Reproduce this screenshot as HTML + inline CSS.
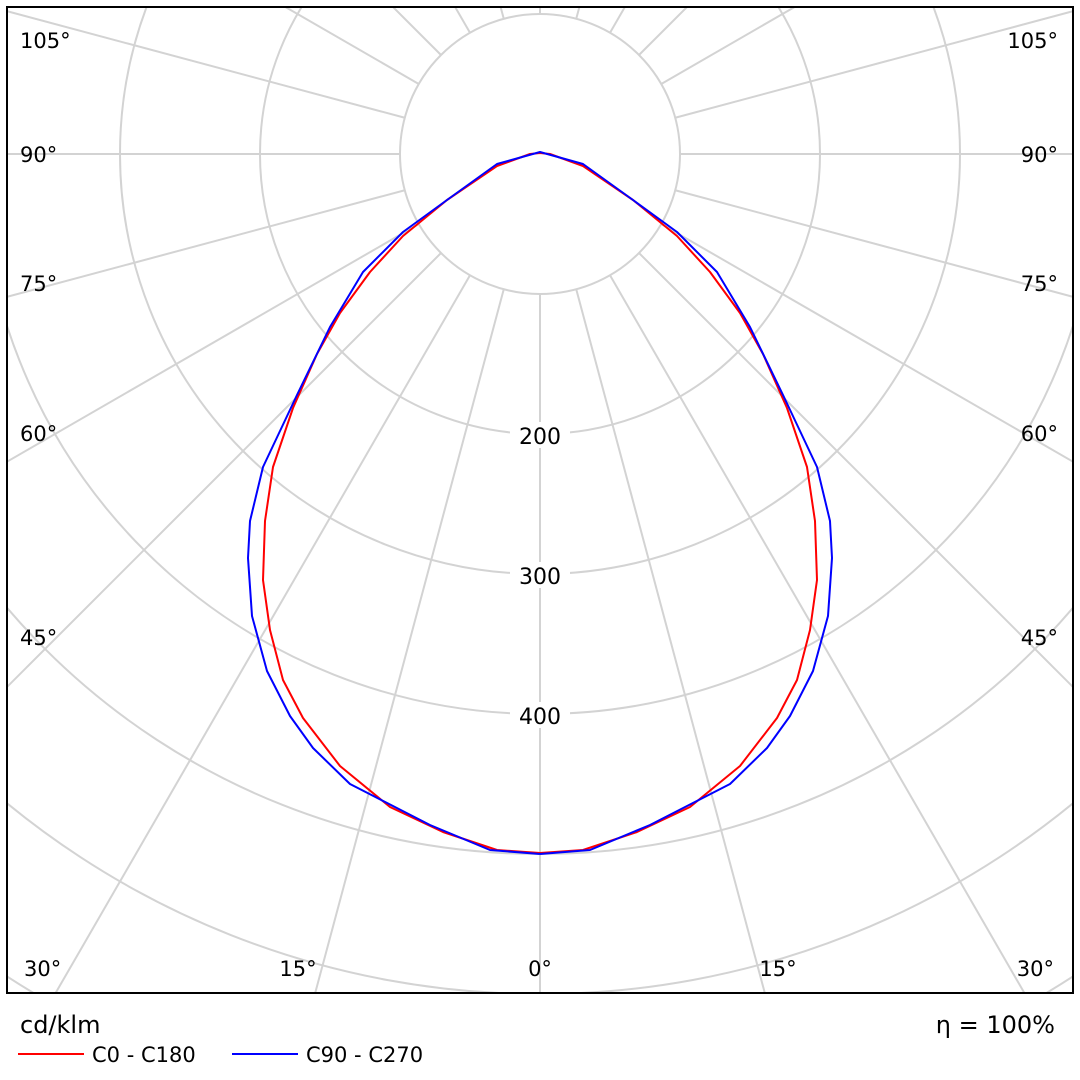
<!DOCTYPE html>
<html><head><meta charset="utf-8"><style>
html,body{margin:0;padding:0;background:#fff;width:1080px;height:1080px;overflow:hidden;}
svg{display:block;font-family:"DejaVu Sans","Liberation Sans",sans-serif;}
</style></head><body>
<svg width="1080" height="1080" viewBox="0 0 1080 1080" xmlns="http://www.w3.org/2000/svg">
<defs><clipPath id="c"><rect x="8" y="8" width="1064" height="984"/></clipPath></defs>
<g clip-path="url(#c)" stroke="#d3d3d3" stroke-width="2" fill="none">
<circle cx="540" cy="154" r="140"/><circle cx="540" cy="154" r="280"/><circle cx="540" cy="154" r="420"/>
<circle cx="540" cy="154" r="560"/><circle cx="540" cy="154" r="700"/><circle cx="540" cy="154" r="840"/>
<circle cx="540" cy="154" r="980"/><circle cx="540" cy="154" r="1120"/>
<g>
<line x1="540" y1="294" x2="540" y2="2154"/>
<line x1="540" y1="294" x2="540" y2="2154" transform="rotate(15 540 154)"/>
<line x1="540" y1="294" x2="540" y2="2154" transform="rotate(30 540 154)"/>
<line x1="540" y1="294" x2="540" y2="2154" transform="rotate(45 540 154)"/>
<line x1="540" y1="294" x2="540" y2="2154" transform="rotate(60 540 154)"/>
<line x1="540" y1="294" x2="540" y2="2154" transform="rotate(75 540 154)"/>
<line x1="540" y1="294" x2="540" y2="2154" transform="rotate(90 540 154)"/>
<line x1="540" y1="294" x2="540" y2="2154" transform="rotate(105 540 154)"/>
<line x1="540" y1="294" x2="540" y2="2154" transform="rotate(120 540 154)"/>
<line x1="540" y1="294" x2="540" y2="2154" transform="rotate(135 540 154)"/>
<line x1="540" y1="294" x2="540" y2="2154" transform="rotate(150 540 154)"/>
<line x1="540" y1="294" x2="540" y2="2154" transform="rotate(165 540 154)"/>
<line x1="540" y1="294" x2="540" y2="2154" transform="rotate(180 540 154)"/>
<line x1="540" y1="294" x2="540" y2="2154" transform="rotate(195 540 154)"/>
<line x1="540" y1="294" x2="540" y2="2154" transform="rotate(210 540 154)"/>
<line x1="540" y1="294" x2="540" y2="2154" transform="rotate(225 540 154)"/>
<line x1="540" y1="294" x2="540" y2="2154" transform="rotate(240 540 154)"/>
<line x1="540" y1="294" x2="540" y2="2154" transform="rotate(255 540 154)"/>
<line x1="540" y1="294" x2="540" y2="2154" transform="rotate(270 540 154)"/>
<line x1="540" y1="294" x2="540" y2="2154" transform="rotate(285 540 154)"/>
<line x1="540" y1="294" x2="540" y2="2154" transform="rotate(300 540 154)"/>
<line x1="540" y1="294" x2="540" y2="2154" transform="rotate(315 540 154)"/>
<line x1="540" y1="294" x2="540" y2="2154" transform="rotate(330 540 154)"/>
<line x1="540" y1="294" x2="540" y2="2154" transform="rotate(345 540 154)"/>
</g>
</g>
<g font-size="22" fill="#000" text-anchor="middle">
<rect x="510" y="422" width="60" height="26" fill="#fff"/><text x="540" y="444">200</text>
<rect x="510" y="562" width="60" height="26" fill="#fff"/><text x="540" y="584">300</text>
<rect x="510" y="702" width="60" height="26" fill="#fff"/><text x="540" y="724">400</text>
</g>
<g font-size="21" fill="#000">
<g text-anchor="start">
<text x="20" y="48">105°</text><text x="20" y="162">90°</text><text x="20" y="291">75°</text>
<text x="20" y="441">60°</text><text x="20" y="645">45°</text><text x="24" y="976">30°</text>
</g>
<g text-anchor="end">
<text x="1058" y="48">105°</text><text x="1058" y="162">90°</text><text x="1058" y="291">75°</text>
<text x="1058" y="441">60°</text><text x="1058" y="645">45°</text><text x="1054" y="976">30°</text>
</g>
<g text-anchor="middle"><text x="298" y="976">15°</text><text x="540" y="976">0°</text><text x="778" y="976">15°</text></g>
</g>
<polyline fill="none" stroke="#ff0000" stroke-width="2" stroke-linejoin="round" points="540,853 497,850 443,832 390,807 340,766 303,718 283,680 270,630 263,580 265,521 273,467 293,408 317,354 340,313 370,272 403,236 447,200 497,166 530,154 540,153 550,154 583,166 633,200 677,236 710,272 740,313 763,354 787,408 807,467 815,521 817,580 810,630 797,680 777,718 740,766 690,807 637,832 583,850 540,853"/>
<polyline fill="none" stroke="#0000ff" stroke-width="2" stroke-linejoin="round" points="540,854 490,850 430,825 350,784 313,748 290,716 267,671 252,616 248,558 250,521 263,467 297,395 330,327 363,272 403,232 447,200 497,164 540,152 583,164 633,200 677,232 717,272 750,327 783,395 817,467 830,521 832,558 828,616 813,671 790,716 767,748 730,784 650,825 590,850 540,854"/>
<rect x="7" y="7" width="1066" height="986" fill="none" stroke="#000" stroke-width="2"/>
<text x="20" y="1033" font-size="24">cd/klm</text>
<text x="1055" y="1033" font-size="24" text-anchor="end">η = 100%</text>
<line x1="18" y1="1054" x2="84" y2="1054" stroke="#ff0000" stroke-width="2"/>
<text x="92" y="1062" font-size="21">C0 - C180</text>
<line x1="232" y1="1054" x2="298" y2="1054" stroke="#0000ff" stroke-width="2"/>
<text x="306" y="1062" font-size="21">C90 - C270</text>
</svg>
</body></html>
